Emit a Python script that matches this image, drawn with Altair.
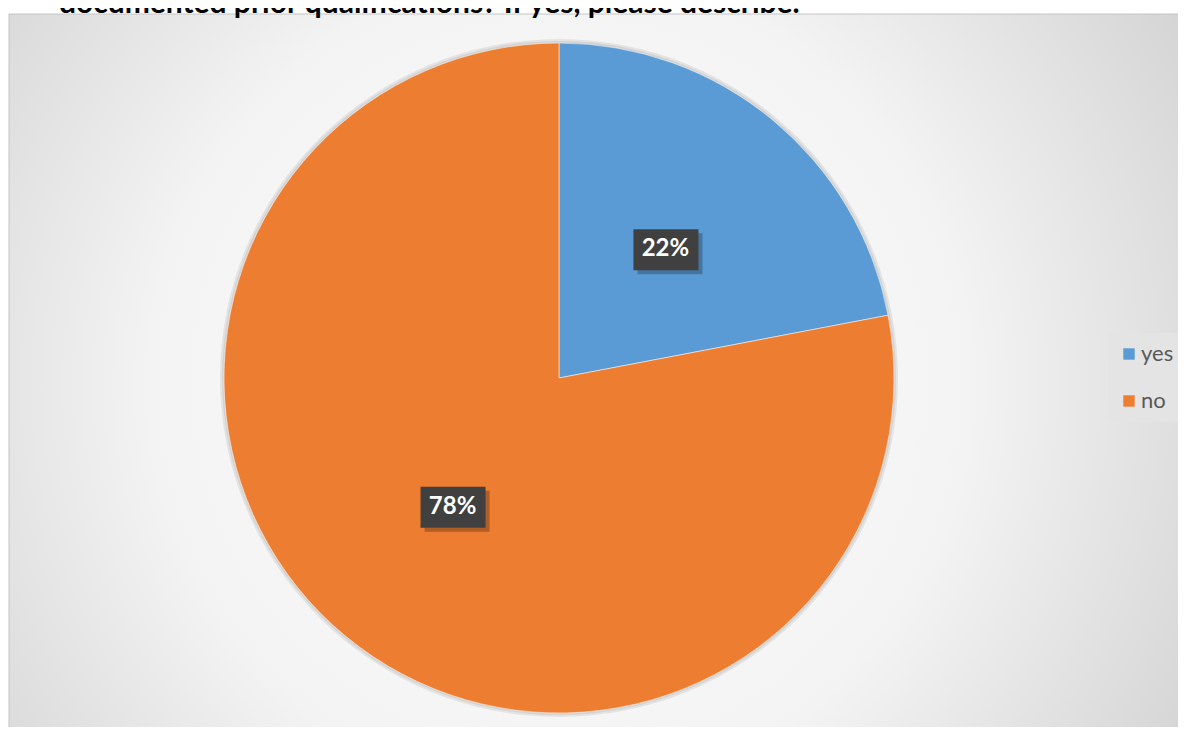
import altair as alt
import pandas as pd

categories = ["yes", "no"]
values = [22, 78]
colors = ["#5B9BD5", "#ED7D31"]
title_text = ["documented prior qualifications? If yes, please describe."]

W, H = 1170, 719
CX, CY, R = 551, 370, 335
LR = 167  # label radius

df = pd.DataFrame({"cat": categories, "value": values, "idx": list(range(len(categories)))})
tdf = pd.DataFrame({"t": title_text})
bg_df = pd.DataFrame({"k": [0]})

grad = alt.RadialGradient(
    gradient="radial",
    stops=[
        alt.GradientStop(offset=0, color="#ffffff"),
        alt.GradientStop(offset=0.45, color="#f3f3f3"),
        alt.GradientStop(offset=1, color="#c2c2c2"),
    ],
    x1=0.4705, y1=0.5105, r1=0,
    x2=0.4705, y2=0.5105, r2=0.78,
)

background = alt.Chart(bg_df).mark_rect(color=grad, stroke="#c4c4c4", strokeWidth=1).encode(
    x=alt.value(1), x2=alt.value(W + 2), y=alt.value(6), y2=alt.value(H + 2)
)

title = alt.Chart(tdf).mark_text(
    align="left", baseline="alphabetic", font="Lato", fontSize=30, fontWeight="bold", color="#000000"
).encode(x=alt.value(51), y=alt.value(5), text="t:N")

pie_shadow = alt.Chart(bg_df).mark_arc(
    x=CX, y=CY, outerRadius=R + 4, theta=0, theta2=6.2832, opacity=0.07
).encode(color=alt.value("#000000"))
pie_shadow2 = alt.Chart(bg_df).mark_arc(
    x=CX, y=CY, outerRadius=R + 2, theta=0, theta2=6.2832, opacity=0.07
).encode(color=alt.value("#000000"))

pie = alt.Chart(df).mark_arc(
    x=CX, y=CY, outerRadius=R, stroke="#ffffff", strokeWidth=0.5
).encode(
    theta=alt.Theta("value:Q", stack=True),
    order=alt.Order("idx:Q", sort="ascending"),
    color=alt.Color(
        "cat:N",
        scale=alt.Scale(domain=categories, range=colors),
        sort=categories,
        legend=alt.Legend(
            orient="none", legendX=1100, legendY=325, title=None,
            symbolType="square", symbolSize=130, symbolStrokeWidth=0,
            labelFontSize=22, labelFont="Lato", labelColor="#595959",
            fillColor="#e4e4e4", padding=10, rowPadding=25, labelOffset=1,
        ),
    ),
)

base = alt.Chart(df).transform_window(
    cum="sum(value)", sort=[alt.SortField("idx", order="ascending")]
).transform_joinaggregate(
    total="sum(value)"
).transform_calculate(
    mid="(datum.cum - datum.value / 2) / datum.total * 2 * PI",
    label="datum.value + '%'",
).transform_calculate(
    px=f"{CX} + {LR} * sin(datum.mid)",
    py=f"{CY} - {LR} * cos(datum.mid)",
).transform_calculate(
    bx0="datum.px - 32", bx1="datum.px + 33",
    by0="datum.py - 20", by1="datum.py + 21",
    sx0="datum.px - 28", sx1="datum.px + 37",
    sy0="datum.py - 16", sy1="datum.py + 25",
)

shadow = base.mark_rect(color="#000000", opacity=0.25).encode(
    x=alt.X("sx0:Q", scale=None, axis=None), x2="sx1:Q",
    y=alt.Y("sy0:Q", scale=None, axis=None), y2="sy1:Q",
)
boxes = base.mark_rect(color="#404040").encode(
    x=alt.X("bx0:Q", scale=None, axis=None), x2="bx1:Q",
    y=alt.Y("by0:Q", scale=None, axis=None), y2="by1:Q",
)
labels = base.mark_text(
    font="Lato", fontSize=24, fontWeight="bold", color="#ffffff", align="center", baseline="middle"
).encode(
    x=alt.X("px:Q", scale=None, axis=None),
    y=alt.Y("py:Q", scale=None, axis=None),
    text="label:N",
)

chart = alt.layer(background, pie_shadow, pie_shadow2, pie, shadow, boxes, labels, title).properties(
    width=W, height=H, padding=0, autosize=alt.AutoSizeParams(type="none"), background="#ffffff"
).configure_view(stroke=None)

chart.save("out.html", embed_options={"renderer": "svg", "actions": False})
